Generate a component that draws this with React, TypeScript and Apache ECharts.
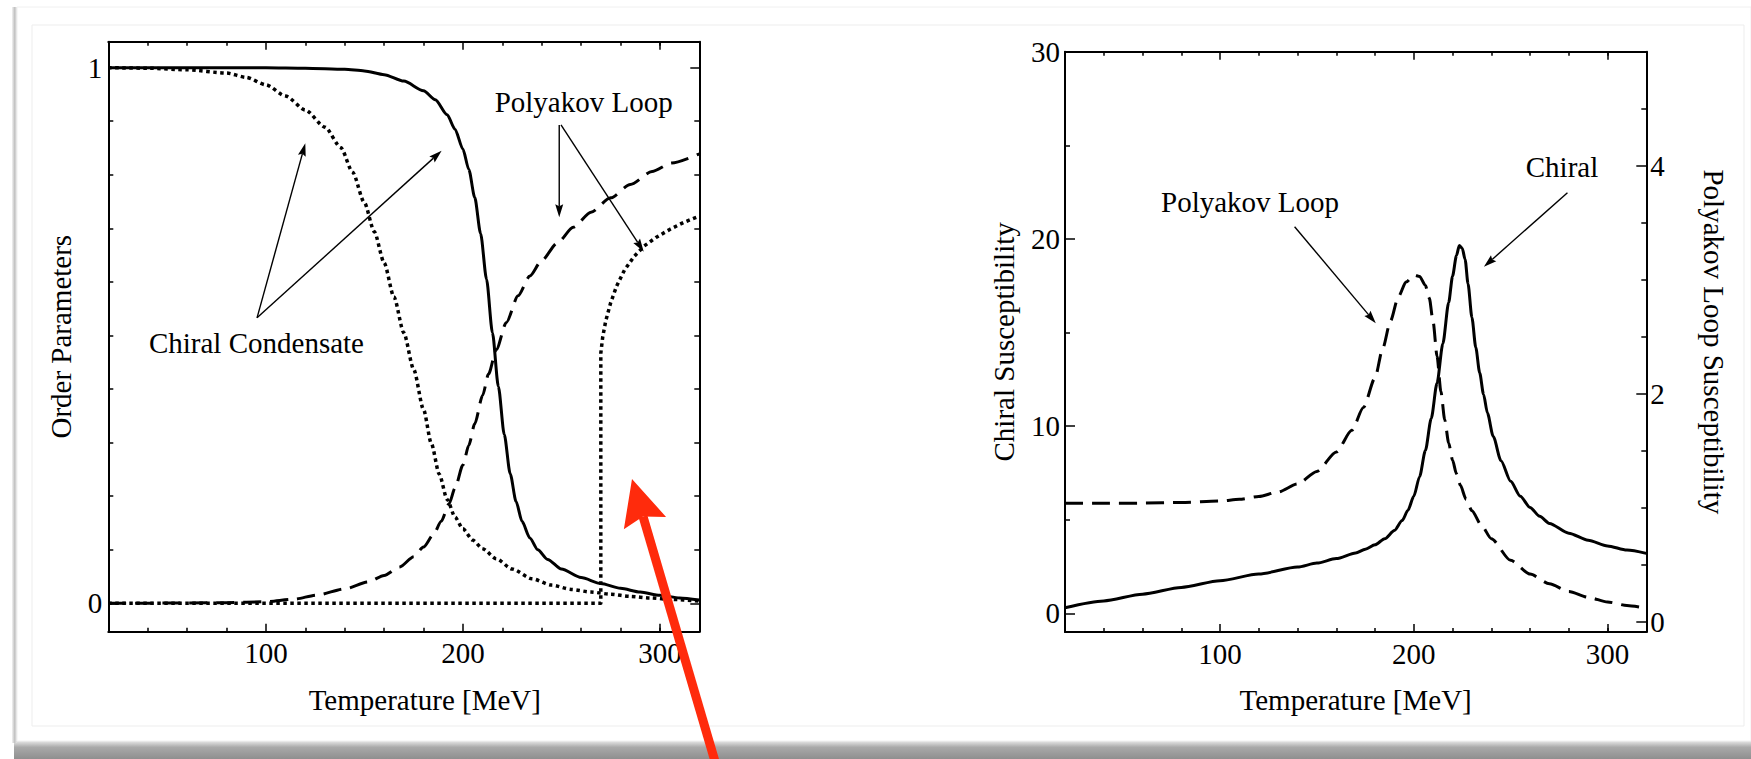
import React, { useEffect, useRef } from "react";
import * as echarts from "echarts";

const FONT = "'Liberation Serif', 'Times New Roman', serif";
const W = 1751;
const H = 759;

// ---- axes ----
const X_MIN = 20;
const X_MAX = 320;
const xMajor = [100, 200, 300];
const xMinor = [40, 60, 80, 120, 140, 160, 180, 220, 240, 260, 280, 300];

const opMajor = [0, 1];
const opMinor = [0.1, 0.2, 0.3, 0.4, 0.5, 0.6, 0.7, 0.8, 0.9];
const chiMajor = [0, 10, 20, 30];
const chiMinor = [5, 15, 25];
const polMajor = [0, 2, 4];
const polMinor = [0.5, 1, 1.5, 2.5, 3, 3.5, 4.5];

// ---- left panel: order parameters ----
const condensateSolid: [number, number][] = [
  [20, 1], [100, 1], [120, 0.999], [140, 0.997], [150, 0.994], [160, 0.987], [170, 0.975],
  [180, 0.957], [186, 0.94], [192, 0.912], [196, 0.885], [200, 0.848], [203, 0.81],
  [206, 0.758], [209, 0.69], [212, 0.605], [215, 0.505], [218, 0.405], [221, 0.315],
  [224, 0.242], [227, 0.19], [230, 0.153], [234, 0.122], [238, 0.1], [243, 0.082],
  [250, 0.064], [260, 0.048], [270, 0.037], [280, 0.028], [290, 0.021], [300, 0.015],
  [310, 0.01], [320, 0.006],
];
const condensateDotted: [number, number][] = [
  [20, 1], [40, 0.999], [60, 0.996], [80, 0.99], [90, 0.982], [100, 0.968], [110, 0.947],
  [120, 0.921], [130, 0.889], [138, 0.851], [144, 0.805], [150, 0.748], [155, 0.694],
  [160, 0.636], [165, 0.572], [170, 0.505], [175, 0.437], [180, 0.362], [184, 0.298],
  [188, 0.241], [192, 0.194], [196, 0.161], [200, 0.139], [205, 0.118], [210, 0.102],
  [217, 0.083], [225, 0.064], [235, 0.046], [245, 0.034], [255, 0.026], [265, 0.021],
  [275, 0.017], [285, 0.013], [295, 0.01], [305, 0.0075], [320, 0.004],
];
const loopDashed: [number, number][] = [
  [20, 0], [60, 0.0005], [80, 0.0012], [100, 0.003], [114, 0.0075], [126, 0.0155],
  [140, 0.027], [152, 0.04], [160, 0.052], [168, 0.068], [175, 0.087], [180, 0.105],
  [185, 0.128], [189, 0.153], [193, 0.186], [196, 0.215], [200, 0.258], [203, 0.295],
  [206, 0.335], [210, 0.388], [213, 0.428], [217, 0.474], [222, 0.524], [228, 0.574],
  [234, 0.611], [240, 0.64], [248, 0.673], [256, 0.702], [265, 0.73], [275, 0.757],
  [285, 0.782], [296, 0.806], [306, 0.822], [320, 0.839],
];
const loopDotted: [number, number][] = [
  [20, 0], [270, 0], [270, 0.467], [271, 0.498], [272.5, 0.527], [275, 0.561], [278, 0.592],
  [282, 0.622], [287, 0.648], [292, 0.667], [298, 0.683], [305, 0.698], [312, 0.711], [320, 0.723],
];

// ---- right panel: susceptibilities ----
const chiralSus: [number, number][] = [
  [20, 0.3], [40, 0.66], [60, 1.02], [80, 1.38], [100, 1.74], [120, 2.1], [140, 2.47],
  [150, 2.68], [160, 2.92], [170, 3.22], [175, 3.42], [180, 3.66], [185, 3.98], [190, 4.42],
  [194, 4.95], [197, 5.5], [200, 6.25], [203, 7.3], [206, 8.7], [209, 10.4], [212, 12.3],
  [215, 14.4], [218, 16.6], [220, 18.0], [222, 19.1], [223.5, 19.65], [225, 19.5],
  [226.5, 18.9], [228, 17.6], [230, 15.8], [232, 14.2], [234, 12.85], [236, 11.7],
  [238, 10.7], [241, 9.45], [245, 8.15], [250, 7.05], [255, 6.25], [260, 5.65], [265, 5.18],
  [270, 4.8], [280, 4.28], [290, 3.9], [300, 3.6], [310, 3.38], [320, 3.2],
];
const polyakovSus: [number, number][] = [
  [20, 1.04], [40, 1.04], [60, 1.042], [80, 1.048], [100, 1.06], [110, 1.075], [120, 1.1],
  [130, 1.14], [140, 1.21], [150, 1.32], [160, 1.49], [168, 1.68], [174, 1.88], [180, 2.14],
  [184, 2.4], [188, 2.64], [192, 2.85], [196, 2.98], [200, 3.04], [203, 3.03], [206, 2.95],
  [208, 2.84], [210, 2.63], [212, 2.33], [214, 2.02], [216, 1.77], [218, 1.57], [220, 1.42],
  [222, 1.3], [224, 1.2], [227, 1.075], [230, 0.975], [235, 0.845], [240, 0.73], [250, 0.54],
  [260, 0.42], [270, 0.335], [280, 0.268], [290, 0.216], [300, 0.175], [310, 0.145], [320, 0.12],
];

// ---- annotations (data coordinates) ----
const leftNotes = [
  { text: "Polyakov Loop", x: 261.3, y: 0.9365 },
  { text: "Chiral Condensate", x: 95.2, y: 0.486 },
];
const leftArrows: [number, number][][] = [
  [[248.9, 0.893], [248.9, 0.7207]],
  [[249.8, 0.893], [291.8, 0.6565]],
  [[95.5, 0.533], [120, 0.859]],
  [[95.5, 0.533], [189.2, 0.845]],
];
const rightNotes = [
  { text: "Polyakov Loop", x: 115.5, y: 21.97 },
  { text: "Chiral", x: 276.5, y: 23.84 },
];
const rightArrows: [number, number][][] = [
  [[138.5, 20.65], [180.4, 15.49]],
  [[279.3, 22.47], [236.2, 18.51]],
];

const txt = { color: "#000", fontFamily: FONT, fontSize: 29 };
const tickLine = { color: "#000", width: 1.5 };
const frameLine = { color: "#000", width: 2 };

function xAxesFor(grid: number, nameGap: number, namePad: number[]) {
  const base = { type: "value", gridIndex: grid, min: X_MIN, max: X_MAX, splitLine: { show: false } };
  return [
    {
      ...base, position: "bottom",
      axisLine: { show: true, onZero: false, lineStyle: frameLine },
      axisTick: { show: true, inside: true, length: 8, customValues: xMajor, lineStyle: tickLine },
      axisLabel: { show: true, customValues: xMajor, margin: 7, ...txt },
      name: "Temperature [MeV]", nameLocation: "middle", nameGap,
      nameTextStyle: { ...txt, padding: namePad },
    },
    {
      ...base, position: "bottom",
      axisLine: { show: false, onZero: false },
      axisTick: { show: true, inside: true, length: 4, customValues: xMinor, lineStyle: tickLine },
      axisLabel: { show: false },
    },
    {
      ...base, position: "top",
      axisLine: { show: true, onZero: false, lineStyle: frameLine },
      axisTick: { show: true, inside: true, length: 8, customValues: xMajor, lineStyle: tickLine },
      axisLabel: { show: false },
    },
    {
      ...base, position: "top",
      axisLine: { show: false, onZero: false },
      axisTick: { show: true, inside: true, length: 4, customValues: xMinor, lineStyle: tickLine },
      axisLabel: { show: false },
    },
  ];
}

function yAx(grid: number, position: string, min: number, max: number, ticks: number[], len: number,
  showLine: boolean, labels?: number[], margin = 6, extra: any = {}) {
  return {
    type: "value", gridIndex: grid, position, min, max, splitLine: { show: false },
    axisLine: { show: showLine, onZero: false, lineStyle: frameLine },
    axisTick: { show: true, inside: true, length: len, customValues: ticks, lineStyle: tickLine },
    axisLabel: labels ? { show: true, customValues: labels, margin, ...txt } : { show: false },
    ...extra,
  };
}

function buildOption() {
  const OP_MIN = -0.053, OP_MAX = 1.0485;
  const CH_MIN = -1, CH_MAX = 30;
  const PO_MIN = -0.088, PO_MAX = 5;
  const xAxis = [...xAxesFor(0, 54, [0, 0, 0, 42]), ...xAxesFor(1, 53.5, [0, 0, 0, 0])];
  const yAxis = [
    yAx(0, "left", OP_MIN, OP_MAX, opMajor, 9, true, opMajor, 6, {
      name: "Order Parameters", nameLocation: "middle", nameGap: 33, nameTextStyle: { ...txt },
    }),
    yAx(0, "left", OP_MIN, OP_MAX, opMinor, 5, false),
    yAx(0, "right", OP_MIN, OP_MAX, opMajor, 9, true),
    yAx(0, "right", OP_MIN, OP_MAX, opMinor, 5, false),
    yAx(1, "left", CH_MIN, CH_MAX, chiMajor, 10, true, chiMajor, 5, {
      name: "Chiral Susceptibility", nameLocation: "middle", nameGap: 47, nameTextStyle: { ...txt },
    }),
    yAx(1, "left", CH_MIN, CH_MAX, chiMinor, 5, false),
    yAx(1, "right", PO_MIN, PO_MAX, polMajor, 10, true, polMajor, 4, {
      name: "Polyakov Loop Susceptibility", nameLocation: "middle", nameGap: 53, nameRotate: -90,
      nameTextStyle: { ...txt },
    }),
    yAx(1, "right", PO_MIN, PO_MAX, polMinor, 5, false),
  ];
  const line = (data: any, xi: number, yi: number, type: any, width = 3, smooth: any = 0.25) => ({
    type: "line", xAxisIndex: xi, yAxisIndex: yi, data, symbol: "none", showSymbol: false,
    smooth, smoothMonotone: smooth ? "x" : undefined, z: 3,
    lineStyle: { color: "#000", width, type, cap: "butt", join: "round" },
  });
  return {
    animation: false,
    backgroundColor: "transparent",
    grid: [
      { left: 108.3, top: 41.7, width: 591, height: 590, containLabel: false },
      { left: 1065, top: 51.7, width: 581.3, height: 580.3, containLabel: false },
    ],
    xAxis,
    yAxis,
    series: [
      line(condensateSolid, 0, 0, "solid", 3),
      line(condensateDotted, 0, 0, [3.5, 3.5], 3.5),
      line(loopDashed, 0, 0, [18, 9], 3),
      line(loopDotted, 0, 0, [3.5, 3.5], 3.5, false),
      line(chiralSus, 4, 4, "solid", 3),
      line(polyakovSus, 4, 6, [18, 9], 3),
    ],
  };
}

function arrowEls(p1: number[], p2: number[], color: string, width: number, headLen: number, headHalf: number, z = 10) {
  const dx = p2[0] - p1[0];
  const dy = p2[1] - p1[1];
  const L = Math.hypot(dx, dy);
  const ux = dx / L, uy = dy / L;
  const nx = -uy, ny = ux;
  const bx = p2[0] - ux * headLen * 0.85;
  const by = p2[1] - uy * headLen * 0.85;
  const hx = p2[0] - ux * headLen;
  const hy = p2[1] - uy * headLen;
  return [
    { type: "line", z, silent: true, shape: { x1: p1[0], y1: p1[1], x2: bx, y2: by }, style: { stroke: color, lineWidth: width } },
    {
      type: "polygon", z, silent: true,
      shape: { points: [[p2[0], p2[1]], [hx + nx * headHalf, hy + ny * headHalf], [bx, by], [hx - nx * headHalf, hy - ny * headHalf]] },
      style: { fill: color },
    },
  ];
}

function textEl(text: string, p: number[]) {
  return {
    type: "text", z: 10, silent: true, x: p[0], y: p[1],
    style: {
      text, fill: "#000", fontFamily: FONT, fontSize: 29,
      align: "center", verticalAlign: "middle", textAlign: "center", textVerticalAlign: "middle",
    },
  };
}

export default function App() {
  const ref = useRef<HTMLDivElement>(null);
  useEffect(() => {
    const el = ref.current;
    if (!el) return;
    const chart = echarts.init(el, null, { renderer: "svg", width: W, height: H });
    chart.setOption(buildOption() as any);

    const L = (p: number[]) => chart.convertToPixel({ xAxisIndex: 0, yAxisIndex: 0 }, p) as number[];
    const R = (p: number[]) => chart.convertToPixel({ xAxisIndex: 4, yAxisIndex: 4 }, p) as number[];

    const els: any[] = [];
    // card background & shadows (screenshot frame)
    els.push({
      type: "rect", z: -100, silent: true, shape: { x: 0, y: 0, width: W, height: H }, style: { fill: "#ffffff" },
    });
    els.push({
      type: "rect", z: -99, silent: true, shape: { x: 14, y: 741, width: W - 14, height: 18 },
      style: {
        fill: new echarts.graphic.LinearGradient(0, 0, 0, 1, [
          { offset: 0, color: "#e6e6e6" },
          { offset: 0.35, color: "#a9a9a9" },
          { offset: 1, color: "#8f8f8f" },
        ]),
      },
    });
    els.push({
      type: "rect", z: -98, silent: true, shape: { x: 12, y: 7, width: 5, height: 736 },
      style: {
        fill: new echarts.graphic.LinearGradient(0, 0, 1, 0, [
          { offset: 0, color: "#f2f2f2" },
          { offset: 0.5, color: "#c4c4c4" },
          { offset: 1, color: "#e4e4e4" },
        ]),
      },
    });
    els.push({
      type: "rect", z: -97, silent: true, shape: { x: 17, y: 7, width: W - 17, height: 734 },
      style: { fill: "#ffffff", stroke: "#f0f0f0", lineWidth: 1 },
    });
    els.push({
      type: "rect", z: -96, silent: true, shape: { x: 32, y: 25, width: 1712, height: 701 },
      style: { fill: "none", stroke: "#ededed", lineWidth: 1 },
    });

    leftNotes.forEach((n) => els.push(textEl(n.text, L([n.x, n.y]))));
    rightNotes.forEach((n) => els.push(textEl(n.text, R([n.x, n.y]))));
    leftArrows.forEach((a) => els.push(...arrowEls(L(a[0]), L(a[1]), "#000", 1.4, 13, 4)));
    rightArrows.forEach((a) => els.push(...arrowEls(R(a[0]), R(a[1]), "#000", 1.4, 13, 4)));

    // red overlay arrow (screenshot annotation)
    els.push(...arrowEls([719, 775], [632, 479], "#ff2b0c", 9, 46, 22, 100));

    chart.setOption({ graphic: { elements: els } } as any);
    return () => chart.dispose();
  }, []);
  return (
    <div
      ref={ref}
      style={{ position: "fixed", left: 0, top: 0, width: W, height: H, background: "#fff" }}
    />
  );
}
